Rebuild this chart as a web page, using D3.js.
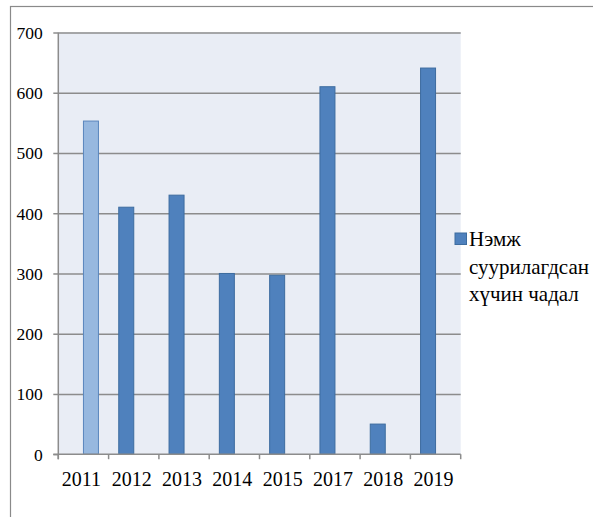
<!DOCTYPE html>
<html>
<head>
<meta charset="utf-8">
<script src="https://cdn.jsdelivr.net/npm/d3@7"></script>
<style>
  body { margin: 0; background: #fff; }
</style>
</head>
<body>
<div id="chart"></div>
<script>
// data
var years = ["2011", "2012", "2013", "2014", "2015", "2017", "2018", "2019"];
var addedCapacity = [null, 410, 430, 300, 297, 610, 50, 641];   // dark blue series
var firstYear = [553, null, null, null, null, null, null, null]; // light blue series
var yTicks = [0, 100, 200, 300, 400, 500, 600, 700];
var legendLines = ["Нэмж", "суурилагдсан", "хүчин чадал"];

// set the specs
var width = 593;
var height = 517;
var plotLeft = 58.3;
var plotRight = 460.7;
var plotTop = 32.5;
var plotBottom = 454.2;
var serif = "Liberation Serif";

var svg = d3.select("#chart")
            .append("svg")
            .attr("width", width)
            .attr("height", height);

// outer frame (only top and left edge visible)
svg.append("rect")
   .attr("x", 10.5)
   .attr("y", 6.5)
   .attr("width", 700)
   .attr("height", 700)
   .attr("fill", "none")
   .attr("stroke", "#8a8a8a")
   .attr("stroke-width", 1.2);

// scales
var xScale = d3.scaleBand()
               .domain(years)
               .range([plotLeft, plotRight])
               .padding(0);

var seriesScale = d3.scaleBand()
                    .domain(["added", "first"])
                    .range([0, xScale.bandwidth()])
                    .paddingInner(0)
                    .paddingOuter(0.677);

var yScale = d3.scaleLinear()
               .domain([0, 700])
               .range([plotBottom, plotTop]);

// plot background
svg.append("rect")
   .attr("x", plotLeft)
   .attr("y", plotTop)
   .attr("width", plotRight - plotLeft)
   .attr("height", plotBottom - plotTop)
   .attr("fill", "#e9edf5");

// gridlines
var grid = svg.append("g")
    .attr("transform", "translate(" + plotLeft + ",0)")
    .call(d3.axisLeft(yScale)
            .tickValues(yTicks.slice(1))
            .tickSize(-(plotRight - plotLeft))
            .tickFormat(""));
grid.select(".domain").remove();
grid.selectAll("line")
    .attr("stroke", "#8c8c8c")
    .attr("stroke-width", 1.5);

// bars
var rows = years.map(function(d, i){
    return { year: d, added: addedCapacity[i], first: firstYear[i] };
});

var seriesColors = {
    added: { fill: "#4f81bd", stroke: "#3d6c9f" },
    first: { fill: "#97b8df", stroke: "#5a86bd" }
};

["added", "first"].forEach(function(key){
    svg.append("g")
       .selectAll("rect")
       .data(rows.filter(function(d){ return d[key] != null; }))
       .enter()
       .append("rect")
       .attr("x", function(d){ return xScale(d.year) + seriesScale(key); })
       .attr("y", function(d){ return yScale(d[key]); })
       .attr("width", seriesScale.bandwidth())
       .attr("height", function(d){ return yScale(0) - yScale(d[key]); })
       .attr("fill", seriesColors[key].fill)
       .attr("stroke", seriesColors[key].stroke)
       .attr("stroke-width", 1);
});

// y axis
var yAxis = svg.append("g")
    .attr("transform", "translate(" + plotLeft + ",0)")
    .call(d3.axisLeft(yScale)
            .tickValues(yTicks)
            .tickSize(5)
            .tickSizeOuter(0)
            .tickPadding(0));
yAxis.attr("font-family", serif);
yAxis.select(".domain")
     .attr("stroke", "#8c8c8c")
     .attr("stroke-width", 1.5)
     .attr("d", "M0," + plotTop + "V" + (plotBottom + 5));
yAxis.selectAll(".tick line")
     .attr("stroke", "#8c8c8c")
     .attr("stroke-width", 1.5);
yAxis.selectAll(".tick text")
     .attr("x", -15.5)
     .attr("dy", "0.34em")
     .attr("font-family", serif)
     .attr("font-size", 17.5)
     .attr("fill", "#000");

// x axis
var xAxis = svg.append("g")
    .attr("transform", "translate(0," + plotBottom + ")")
    .call(d3.axisBottom(xScale).tickSize(0).tickPadding(0));
xAxis.attr("font-family", serif);
xAxis.select(".domain")
     .attr("stroke", "#8c8c8c")
     .attr("stroke-width", 1.5)
     .attr("d", "M" + (plotLeft - 5) + ",0H" + plotRight);
xAxis.selectAll(".tick text")
     .attr("x", -2)
     .attr("y", 32)
     .attr("dy", 0)
     .attr("font-family", serif)
     .attr("font-size", 20)
     .attr("fill", "#000");

// ticks between categories
var bounds = years.map(function(d){ return xScale(d); }).concat([xScale.range()[1]]);
xAxis.selectAll(".cat-tick")
     .data(bounds)
     .enter()
     .append("line")
     .attr("class", "cat-tick")
     .attr("x1", function(d){ return d; })
     .attr("x2", function(d){ return d; })
     .attr("y1", 0)
     .attr("y2", 5)
     .attr("stroke", "#8c8c8c")
     .attr("stroke-width", 1.5);

// legend
var legend = svg.append("g")
    .attr("transform", "translate(455,233)");
legend.append("rect")
      .attr("width", 11.5)
      .attr("height", 11.5)
      .attr("fill", seriesColors.added.fill)
      .attr("stroke", seriesColors.added.stroke)
      .attr("stroke-width", 1);
legend.selectAll("text")
      .data(legendLines)
      .enter()
      .append("text")
      .attr("x", 14)
      .attr("y", function(d, i){ return 13 + i * 27.5; })
      .attr("font-family", serif)
      .attr("font-size", 21)
      .attr("fill", "#000")
      .text(function(d){ return d; });
</script>
</body>
</html>
